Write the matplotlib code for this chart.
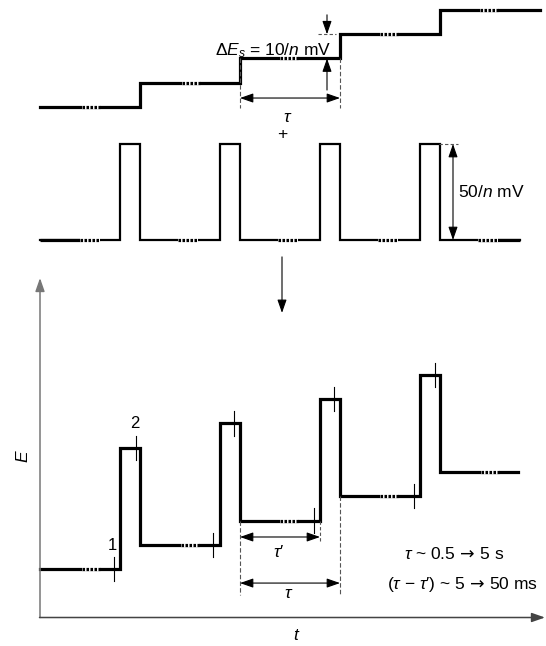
import matplotlib
matplotlib.use('Agg')
import matplotlib.pyplot as plt

plt.rcParams['font.family'] = ['Liberation Sans', 'DejaVu Sans']
plt.rcParams['mathtext.fontset'] = 'custom'
plt.rcParams['mathtext.rm'] = 'Liberation Sans'
plt.rcParams['mathtext.it'] = 'Liberation Sans:italic'
plt.rcParams['mathtext.sf'] = 'DejaVu Sans'

W, H = 546, 646

# time in units of one period tau; potential in steps of 10/n mV
stair_edges = [0, 1, 2, 3, 4, 5]
stair_levels = [0, 1, 2, 3, 4]
stair_breaks = [0.42, 1.42, 2.40, 3.40, 4.40]

# pulse train (height normalised to 1 = 50/n mV)
pulse_on = [0.8, 1.8, 2.8, 3.8]
pulse_off = [1.0, 2.0, 3.0, 4.0]
train_end = 4.8
train_breaks = [0.40, 1.38, 2.38, 3.38, 4.38]

# combined waveform: pulse = 5 steps
dp_levels = [0, 1, 2, 3, 4]
dp_pulse = 5
dp_end = 4.78
dp_breaks = [0.42, 1.41, 2.40, 3.40, 4.41]
sample_before = [0.74, 1.73, 2.74, 3.74]
sample_after = [0.96, 1.94, 2.94, 3.95]

THICK = 2.3
THIN = 0.8
ARROW = dict(arrowstyle='<|-|>,head_length=0.8,head_width=0.28', color='black',
             lw=THIN, shrinkA=0, shrinkB=0, mutation_scale=10)
ONE_ARROW = dict(ARROW, arrowstyle='-|>,head_length=0.8,head_width=0.28')
FS = 12.5
RA = r'$\,\mathsf{\rightarrow}\,$'


def make_ax(top_px, bot_px, ylim):
    ax = fig.add_axes([0, 1 - bot_px / H, 1, (bot_px - top_px) / H])
    ax.set_xlim(-0.4, 5.06)
    ax.set_ylim(ylim)
    ax.axis('off')
    return ax


def breaks(ax, starts, y, lw, width=0.18):
    for s in starts:
        ax.plot([s, s + width], [y, y], color='white', lw=lw + 0.8, solid_capstyle='butt')
        ax.plot([s, s + width], [y, y], color='black', lw=lw, ls=(0, (0.8, 0.45)),
                dash_capstyle='butt')


fig = plt.figure(figsize=(W / 100, H / 100), dpi=100)

# ---- staircase ----
ax1 = make_ax(0, 150, (-1.773, 4.412))
xs, ys = [], []
for i, lev in enumerate(stair_levels):
    xs += [stair_edges[i], stair_edges[i + 1]]
    ys += [lev, lev]
ax1.plot(xs, ys, color='black', lw=THICK, solid_joinstyle='miter')
for s, lev in zip(stair_breaks, stair_levels):
    breaks(ax1, [s], lev, THICK)
ax1.annotate('', xy=(2.87, 3.0), xytext=(2.87, 3.8), arrowprops=ONE_ARROW)
ax1.annotate('', xy=(2.87, 2.0), xytext=(2.87, 0.7), arrowprops=ONE_ARROW)
ax1.plot([2.78, 2.96], [3, 3], color='#555555', lw=THIN, ls=(0, (3, 2)))
ax1.text(2.91, 2.15, r'$\Delta E_s$ = 10/$n$ mV', fontsize=FS, ha='right', va='baseline')
for t in [2, 3]:
    ax1.plot([t, t], [2, -0.05], color='#555555', lw=THIN, ls=(0, (4, 2)))
ax1.annotate('', xy=(2, 0.37), xytext=(3, 0.37), arrowprops=ARROW)
ax1.text(2.48, -0.45, r'$\tau$', fontsize=FS, ha='center', va='center')

# ---- pulse train ----
ax2 = make_ax(120, 260, (-0.208, 1.25))
px, py = [0], [0]
for on, off in zip(pulse_on, pulse_off):
    px += [on, on, off, off]
    py += [0, 1, 1, 0]
px.append(train_end)
py.append(0)
ax2.plot(px, py, color='black', lw=1.6, solid_joinstyle='miter')
ax2.plot([0, train_breaks[0]], [0, 0], color='black', lw=THICK, solid_capstyle='butt')
ax2.plot([train_breaks[-1], train_end], [0, 0], color='black', lw=THICK, solid_capstyle='butt')
breaks(ax2, train_breaks, 0, THICK, width=0.2)
ax2.text(2.42, 1.104, '+', fontsize=FS, ha='center', va='center')
ax2.annotate('', xy=(4.13, 1), xytext=(4.13, 0), arrowprops=ARROW)
ax2.plot([3.99, 4.18], [1, 1], color='#555555', lw=THIN, ls=(0, (3, 2)))
ax2.text(4.18, 0.5, '50/$n$ mV', fontsize=FS, ha='left', va='center')

# ---- combined waveform ----
ax3 = make_ax(255, 646, (-3.175, 12.948))
wx, wy = [0], [dp_levels[0]]
for k, (on, off) in enumerate(zip(pulse_on, pulse_off)):
    wx += [on, on, off, off]
    wy += [dp_levels[k], dp_levels[k] + dp_pulse, dp_levels[k] + dp_pulse, dp_levels[k + 1]]
wx.append(dp_end)
wy.append(dp_levels[-1])
ax3.plot(wx, wy, color='black', lw=THICK, solid_joinstyle='miter')
for s, lev in zip(dp_breaks, dp_levels):
    breaks(ax3, [s], lev, THICK)
for k in range(4):
    for t, e in [(sample_before[k], dp_levels[k]), (sample_after[k], dp_levels[k] + dp_pulse)]:
        ax3.plot([t, t], [e - 0.5, e + 0.5], color='black', lw=THIN)

ax3.annotate('', xy=(2.42, 10.56), xytext=(2.42, 12.87), arrowprops=ONE_ARROW,
             annotation_clip=False)
ax3.annotate('', xy=(0, 12.0), xytext=(0, -2.0), arrowprops=dict(ONE_ARROW, color='#777777', lw=1.1))
ax3.annotate('', xy=(5.05, -2.0), xytext=(-0.005, -2.0), arrowprops=dict(ONE_ARROW, color='#444444', lw=1.1))
ax3.text(-0.17, 4.66, 'E', fontsize=FS, style='italic', rotation=90, ha='center', va='center')
ax3.text(2.56, -2.75, 't', fontsize=FS, style='italic', ha='center', va='center')
ax3.text(0.72, 0.95, '1', fontsize=FS - 0.5, ha='center', va='center')
ax3.text(0.95, 5.98, '2', fontsize=FS - 0.5, ha='center', va='center')

for t, top in [(2, 2), (3, 3)]:
    ax3.plot([t, t], [top, -1.07], color='#555555', lw=THIN, ls=(0, (4, 2)))
ax3.plot([2.8, 2.8], [2, 1.07], color='#555555', lw=THIN, ls=(0, (3, 2)))
ax3.annotate('', xy=(2, 1.32), xytext=(2.8, 1.32), arrowprops=ARROW)
ax3.text(2.39, 0.70, r'$\tau$′', fontsize=FS, ha='center', va='center')
ax3.annotate('', xy=(2, -0.58), xytext=(3, -0.58), arrowprops=ARROW)
ax3.text(2.49, -0.99, r'$\tau$', fontsize=FS, ha='center', va='center')
ax3.text(4.14, 0.62, r'$\tau$ ~ 0.5' + RA + '5 s', fontsize=FS, ha='center', va='center')
ax3.text(4.23, -0.64, r'($\tau$ − $\tau$′) ~ 5' + RA + '50 ms', fontsize=FS,
         ha='center', va='center')

fig.savefig('out.png', dpi=100)
